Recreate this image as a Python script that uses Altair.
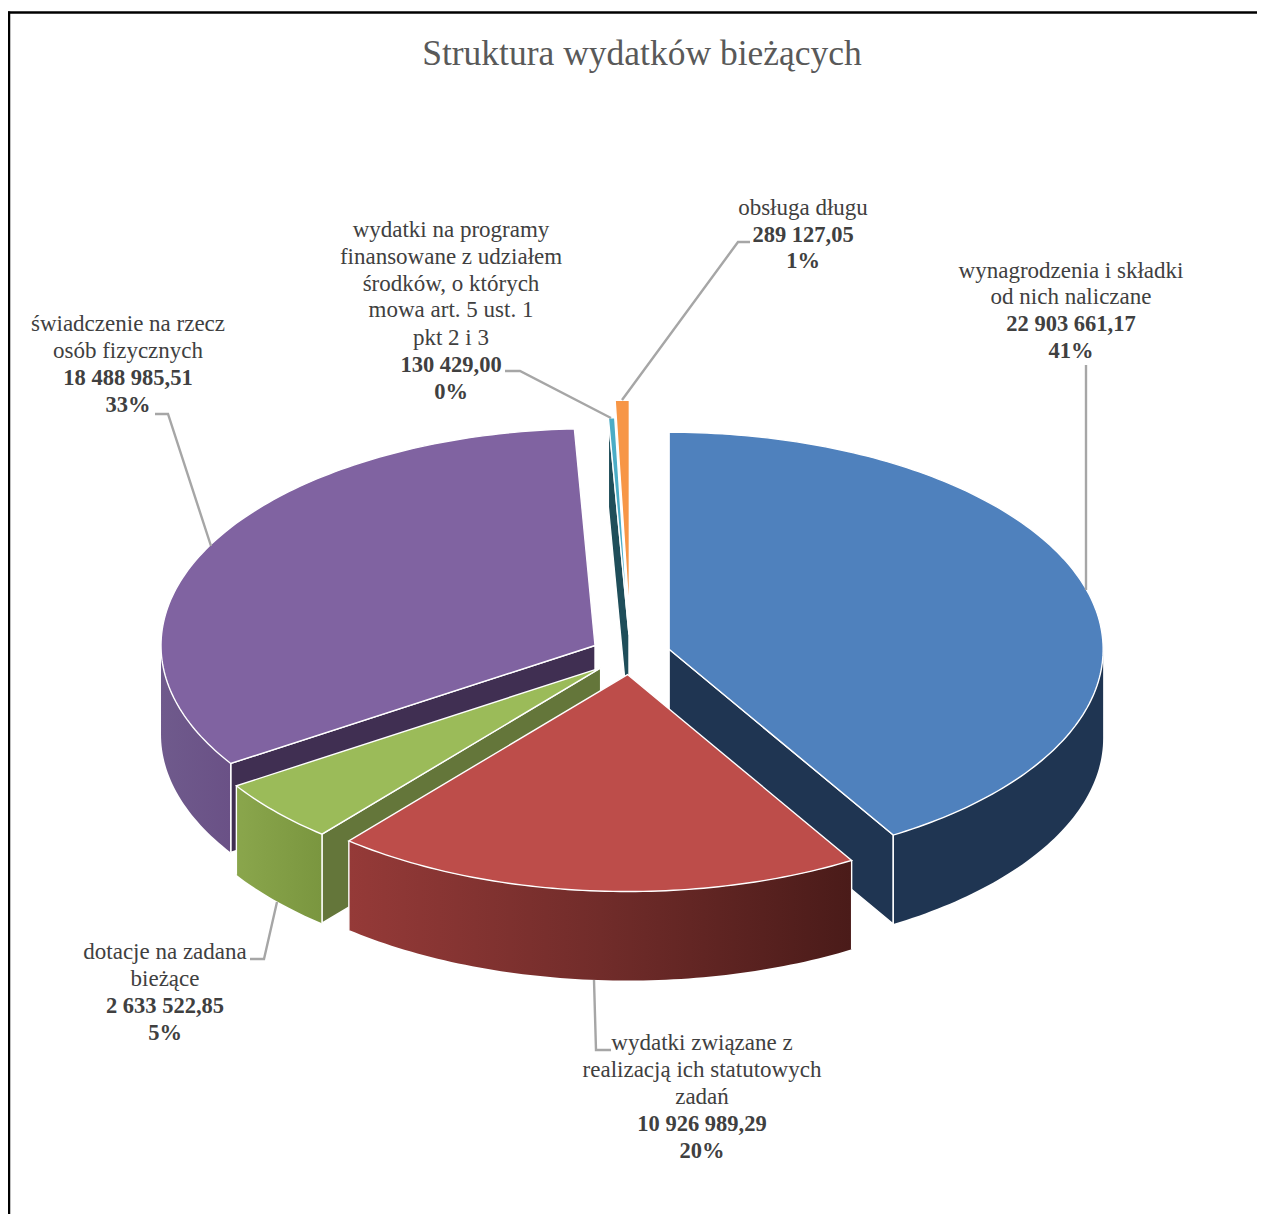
import math
import altair as alt

# ---------- data ----------
names = ["wynagrodzenia", "zadania", "dotacje", "swiadczenia", "programy", "dlug"]
values = [22903661.17, 10926989.29, 2633522.85, 18488985.51, 130429.00, 289127.05]
explode = [40, 40, 40, 40, 40, 75]
draw_order = [5, 4, 3, 0, 2, 1]
top_colors = ["#4F81BD", "#BD4D4A", "#9BBB59", "#8063A1", "#4BACC6", "#F79646"]
side_colors = ["#1F3552", "#64763A", "#64763A", "#402F52", "#1F4E5A", None]
radial_colors = ["#1F3552", "#5A1F1E", "#64763A", "#402F52", "#1F4E5A", None]
wall_stops = [
    ["#1F3552", "#1F3552"],
    ["#953A38", "#712C2A", "#4A1B19"],
    ["#8AA64C", "#7A963F"],
    ["#6F5A8C", "#6A5186"],
    ["#1F4E5A", "#1F4E5A"],
    ["#F79646", "#F79646"],
]
title_text = "Struktura wydatków bieżących"
label_lines = [
    ("wynagrodzenia i składki", 1071, 271, False),
    ("od nich naliczane", 1071, 297, False),
    ("22 903 661,17", 1071, 324, True),
    ("41%", 1071, 351, True),
    ("obsługa długu", 803, 208, False),
    ("289 127,05", 803, 235, True),
    ("1%", 803, 261, True),
    ("wydatki na programy", 451, 230, False),
    ("finansowane z udziałem", 451, 257, False),
    ("środków, o których", 451, 284, False),
    ("mowa art. 5 ust. 1", 451, 310, False),
    ("pkt 2 i 3", 451, 338, False),
    ("130 429,00", 451, 365, True),
    ("0%", 451, 392, True),
    ("świadczenie na rzecz", 128, 324, False),
    ("osób fizycznych", 128, 351, False),
    ("18 488 985,51", 128, 378, True),
    ("33%", 128, 405, True),
    ("dotacje na zadana", 165, 952, False),
    ("bieżące", 165, 979, False),
    ("2 633 522,85", 165, 1006, True),
    ("5%", 165, 1033, True),
    ("wydatki związane z", 702, 1043, False),
    ("realizacją ich statutowych", 702, 1070, False),
    ("zadań", 702, 1097, False),
    ("10 926 989,29", 702, 1124, True),
    ("20%", 702, 1151, True),
]
leaders = [
    [(1086, 365), (1086, 590)],
    [(750, 242), (738, 242), (622, 400)],
    [(505, 371), (520, 371), (611, 418)],
    [(155, 414), (168, 414), (211, 546)],
    [(250, 959), (264, 959), (277, 902)],
    [(594, 980), (596, 1050), (611, 1050)],
]

# ---------- geometry settings (page pixels) ----------
W, H = 1249, 1206
M = 8
CX, CY, RX, RY, DEPTH = 630.6 - M, 654.6 - M, 434, 217, 89
IDENTITY = {"type": "identity", "scale": 1, "translate": [0, 0]}


def feat(coords, fill, stroke, sw, kind="Polygon"):
    geom = coords if kind == "LineString" else [coords + [coords[0]]]
    return {
        "type": "Feature",
        "geometry": {"type": kind, "coordinates": geom},
        "properties": {"fill": fill, "stroke": stroke, "sw": sw},
    }


def shapes(features):
    return (
        alt.Chart(alt.Data(values=features))
        .mark_geoshape()
        .encode(
            fill=alt.Fill("properties.fill:N", scale=None),
            stroke=alt.Stroke("properties.stroke:N", scale=None),
            strokeWidth=alt.StrokeWidth("properties.sw:Q", scale=None),
        )
        .project(**IDENTITY)
    )


def gradient_wall(feature, stops):
    n = len(stops) - 1
    grad = alt.LinearGradient(
        gradient="linear",
        stops=[alt.GradientStop(color=c, offset=i / n) for i, c in enumerate(stops)],
        x1=0, x2=1, y1=0, y2=0,
    )
    return (
        alt.Chart(alt.Data(values=[feature]))
        .mark_geoshape(fill=grad, strokeWidth=0)
        .project(**IDENTITY)
    )


total = sum(values)
starts = []
acc = 0
for v in values:
    starts.append(acc)
    acc += v / total * 360

layers = []
for idx in draw_order:
    a = starts[idx]
    b = a + values[idx] / total * 360
    mid = math.radians((a + b) / 2)
    ax = CX + explode[idx] * math.sin(mid)
    ay = CY - explode[idx] * 0.5 * math.cos(mid)

    def P(deg, z=0):
        r = math.radians(deg)
        return [ax + RX * math.sin(r), ay - RY * math.cos(r) + z]

    def arc(d0, d1, z=0, step=1.0):
        n = max(1, int(abs(d1 - d0) / step))
        return [P(d0 + (d1 - d0) * i / n, z) for i in range(n + 1)]

    upper = []
    if side_colors[idx]:
        lower = []
        # radial faces that look towards the viewer
        if math.cos(math.radians(b + 90)) < 0:
            lower.append(feat([[ax, ay], P(b), P(b, DEPTH), [ax, ay + DEPTH]],
                              radial_colors[idx], "#FFFFFF", 1.4))
        if math.cos(math.radians(a - 90)) < 0:
            lower.append(feat([[ax, ay], P(a), P(a, DEPTH), [ax, ay + DEPTH]],
                              side_colors[idx], "#FFFFFF", 1.4))
        if lower:
            layers.append(shapes(lower))
        # outer wall
        w0, w1 = max(a, 90), min(b, 270)
        if w1 > w0:
            layers.append(gradient_wall(
                feat(arc(w1, w0) + arc(w0, w1, DEPTH), "#000000", "#000000", 0), wall_stops[idx]))
            for d in (w0, w1):
                if 90 < d < 270:
                    upper.append(feat([P(d), P(d, DEPTH)], "transparent", "#FFFFFF", 1.4, "LineString"))
    upper.append(feat([[ax, ay]] + arc(a, b), top_colors[idx], "#FFFFFF", 1.4))
    layers.append(shapes(upper))

layers.append(shapes([
    feat([[x - M, y - M] for x, y in line], "transparent", "#A6A6A6", 2.4, "LineString")
    for line in leaders
]))

xs = alt.Scale(domain=[0, W], range=[0, W])
ys = alt.Scale(domain=[0, H], range=[0, H])
rows = [{"t": t, "x": x - M, "y": y - M, "w": "bold" if b else "normal"} for t, x, y, b in label_lines]


def text_layer(weight, size, color):
    return (
        alt.Chart(alt.Data(values=[r for r in rows if r["w"] == weight]))
        .mark_text(font="Liberation Serif", fontSize=size, fontWeight=weight, color=color,
                   align="center", baseline="middle")
        .encode(x=alt.X("x:Q", scale=xs, axis=None), y=alt.Y("y:Q", scale=ys, axis=None), text="t:N")
    )


title = (
    alt.Chart(alt.Data(values=[{"t": title_text, "x": 642 - M, "y": 54 - M}]))
    .mark_text(font="Liberation Serif", fontSize=35.5, color="#595959", align="center", baseline="middle")
    .encode(x=alt.X("x:Q", scale=xs, axis=None), y=alt.Y("y:Q", scale=ys, axis=None), text="t:N")
)
frame_top = alt.Chart(alt.Data(values=[{"a": 1}])).mark_rule(color="#000000", strokeWidth=2.5).encode(
    x=alt.value(0), x2=alt.value(W), y=alt.value(4.5))
frame_left = alt.Chart(alt.Data(values=[{"a": 1}])).mark_rule(color="#000000", strokeWidth=2.5).encode(
    x=alt.value(1), y=alt.value(3.5), y2=alt.value(H))

chart = (
    alt.layer(*layers, text_layer("normal", 23, "#404040"), text_layer("bold", 22.5, "#404040"),
              title, frame_top, frame_left)
    .properties(width=W, height=H, padding=0, autosize=alt.AutoSizeParams(type="none"),
                background="#FFFFFF")
    .configure_view(stroke=None)
)
chart.save("out.html", embed_options={"renderer": "svg", "actions": False})
